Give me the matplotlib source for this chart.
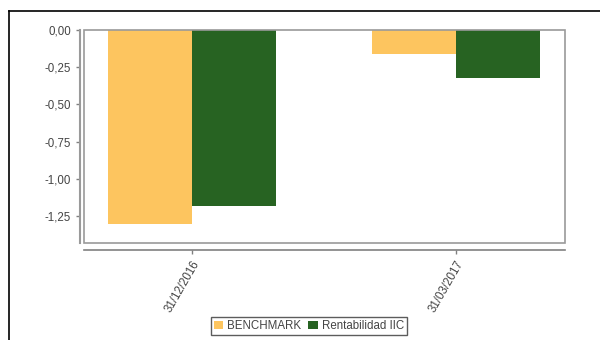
import matplotlib.pyplot as plt
from matplotlib.patches import Rectangle
from matplotlib.lines import Line2D
from matplotlib.ticker import FuncFormatter

plt.rcParams["font.family"] = ["Liberation Sans", "DejaVu Sans"]

dates = ["31/12/2016", "31/03/2017"]
benchmark = [-1.30, -0.16]
rentabilidad = [-1.18, -0.32]
yticks = [0.0, -0.25, -0.5, -0.75, -1.0, -1.25]

fig = plt.figure(figsize=(6, 3.4), dpi=100)
ax = fig.add_axes([84 / 600, 1 - 243 / 340, 481 / 600, 213 / 340])

x = range(len(dates))
width = 0.318
ax.bar([xx - width / 2 for xx in x], benchmark, width=width, color="#FDC55F", label="BENCHMARK")
ax.bar([xx + width / 2 for xx in x], rentabilidad, width=width, color="#276322", label="Rentabilidad IIC")

ax.set_xlim(-0.409, 1.413)
ax.set_ylim(-1.43, 0.0)
ax.set_yticks(yticks)
ax.yaxis.set_major_formatter(FuncFormatter(lambda v, p: f"{v:.2f}".replace(".", ",")))
ax.set_xticks(list(x))
ax.set_xticklabels(dates)

gray = "#9a9a9a"
ax.spines["top"].set_visible(False)
ax.spines["right"].set_visible(False)
ax.spines["left"].set_position(("outward", 3))
ax.spines["bottom"].set_position(("outward", 5))
ax.spines["left"].set_color(gray)
ax.spines["bottom"].set_color("#808080")
ax.spines["left"].set_linewidth(1.5)
ax.spines["bottom"].set_linewidth(1.2)
ax.add_patch(Rectangle((0, 0), 1, 1, transform=ax.transAxes, fill=False,
                       edgecolor=gray, linewidth=1.2, clip_on=False))
ax.tick_params(axis="both", colors="#808080", labelcolor="#444444", labelsize=8.3,
               length=3, width=1)
for lab in ax.get_xticklabels():
    lab.set_rotation(60)
    lab.set_ha("right")
    lab.set_va("top")
    lab.set_rotation_mode("anchor")

# outer border of the chart box
fig.add_artist(Line2D([9 / 600, 1.0], [1 - 11 / 340, 1 - 11 / 340], color="black", lw=1.2))
fig.add_artist(Line2D([9 / 600, 9 / 600], [0.0, 1 - 11 / 340], color="black", lw=1.2))

leg = fig.legend(loc="center", bbox_to_anchor=(309 / 600, 1 - 326 / 340), ncol=2,
                 fontsize=8.3, frameon=True, fancybox=False, handlelength=0.8,
                 handleheight=0.8, handletextpad=0.4, columnspacing=0.6,
                 borderpad=0.25, borderaxespad=0)
leg.get_frame().set_edgecolor("#333333")
leg.get_frame().set_linewidth(1.0)
for t in leg.get_texts():
    t.set_color("#444444")

fig.savefig("out.png", dpi=100)
